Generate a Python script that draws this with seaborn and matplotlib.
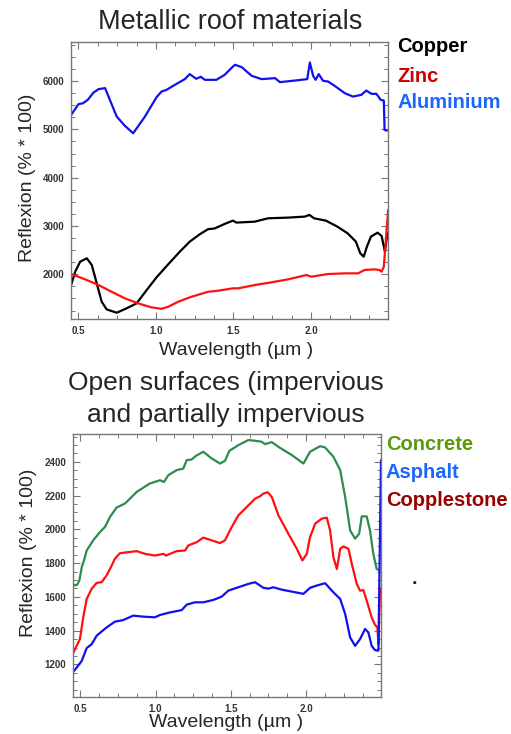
import numpy as np
import pandas as pd
import matplotlib
matplotlib.use('Agg')
import matplotlib.pyplot as plt
from matplotlib.ticker import MultipleLocator
import seaborn as sns

# --- metallic roof materials (wavelength in um, reflexion in % * 100) ---
alu_wl = [0.453, 0.50, 0.53, 0.56, 0.597, 0.63, 0.672, 0.694, 0.747, 0.80, 0.853, 0.929,
          1.004, 1.036, 1.068, 1.122, 1.186, 1.218, 1.26, 1.289, 1.315, 1.39, 1.443, 1.497,
          1.51, 1.553, 1.617, 1.682, 1.768, 1.80, 1.897, 1.976, 1.993, 2.014, 2.03, 2.05,
          2.078, 2.11, 2.153, 2.218, 2.271, 2.325, 2.357, 2.39, 2.422, 2.45, 2.47, 2.475, 2.49]
alu_refl = [5301, 5523, 5543, 5612, 5763, 5834, 5855, 5680, 5266, 5073, 4921, 5266,
            5668, 5784, 5819, 5923, 6041, 6145, 6048, 6090, 6027, 6027, 6130, 6303,
            6338, 6290, 6110, 6041, 6062, 5979, 6012, 6041, 6386, 6110, 6027, 6145,
            6006, 5992, 5902, 5751, 5680, 5716, 5805, 5737, 5737, 5612, 5598, 4990, 4975]

copper_wl = [0.453, 0.479, 0.511, 0.554, 0.586, 0.618, 0.65, 0.682, 0.747, 0.81, 0.875, 0.94,
             1.004, 1.079, 1.154, 1.218, 1.283, 1.336, 1.379, 1.443, 1.497, 1.519, 1.637,
             1.723, 1.852, 1.96, 1.99, 2.02, 2.096, 2.17, 2.236, 2.29, 2.318, 2.34, 2.361,
             2.387, 2.43, 2.456, 2.477, 2.494]
copper_refl = [1778, 2054, 2261, 2332, 2193, 1813, 1432, 1274, 1205, 1295, 1398, 1674,
               1938, 2207, 2469, 2676, 2830, 2934, 2950, 3043, 3112, 3071, 3090,
               3160, 3174, 3195, 3230, 3160, 3112, 2988, 2850, 2676, 2436, 2365, 2573,
               2780, 2863, 2794, 2469, 2863]

zinc_wl = [0.453, 0.543, 0.63, 0.714, 0.80, 0.886, 0.972, 1.036, 1.079, 1.143, 1.229, 1.336,
           1.40, 1.497, 1.53, 1.637, 1.745, 1.852, 1.97, 2.003, 2.11, 2.218, 2.303, 2.346,
           2.41, 2.443, 2.456, 2.47, 2.485, 2.498]
zinc_refl = [2006, 1896, 1778, 1639, 1502, 1398, 1315, 1286, 1328, 1432, 1535, 1639,
             1660, 1710, 1710, 1778, 1834, 1896, 1985, 1951, 2006, 2020, 2020, 2089,
             2103, 2089, 2054, 2158, 2780, 3333]

# --- open surfaces ---
concrete_wl = [0.452, 0.465, 0.48, 0.495, 0.51, 0.525, 0.543, 0.586, 0.631, 0.664, 0.697,
               0.741, 0.797, 0.875, 0.963, 1.03, 1.056, 1.085, 1.14, 1.184, 1.207, 1.24,
               1.266, 1.317, 1.373, 1.428, 1.461, 1.49, 1.55, 1.616, 1.661, 1.705, 1.727,
               1.772, 1.816, 1.905, 1.982, 2.026, 2.093, 2.126, 2.181, 2.226, 2.259, 2.292,
               2.325, 2.352, 2.369, 2.402, 2.424, 2.446, 2.468, 2.48]
concrete_refl = [1675, 1668, 1672, 1700, 1776, 1816, 1875, 1935, 1984, 2014, 2073,
                 2129, 2153, 2222, 2272, 2291, 2281, 2321, 2351, 2360, 2410, 2414,
                 2434, 2460, 2420, 2390, 2406, 2465, 2499, 2529, 2525, 2519, 2505,
                 2517, 2489, 2440, 2390, 2460, 2493, 2485, 2430, 2351, 2192, 1994,
                 1945, 1974, 2077, 2077, 1994, 1855, 1766, 1760]

cobble_wl = [0.45, 0.476, 0.498, 0.52, 0.543, 0.576, 0.609, 0.642, 0.675, 0.709, 0.73, 0.764,
             0.819, 0.875, 0.93, 0.996, 1.052, 1.07, 1.14, 1.196, 1.218, 1.273, 1.317, 1.373,
             1.428, 1.461, 1.506, 1.55, 1.606, 1.661, 1.694, 1.716, 1.745, 1.772, 1.816,
             1.882, 1.938, 1.975, 2.004, 2.026, 2.06, 2.104, 2.137, 2.159, 2.181, 2.204,
             2.226, 2.248, 2.281, 2.303, 2.336, 2.358, 2.38, 2.402, 2.435, 2.457, 2.473,
             2.48, 2.49]
cobble_refl = [1261, 1310, 1350, 1479, 1588, 1648, 1683, 1687, 1727, 1786, 1826, 1859,
               1865, 1871, 1855, 1845, 1855, 1845, 1871, 1875, 1905, 1924, 1951, 1935,
               1919, 1935, 2014, 2083, 2133, 2182, 2196, 2212, 2220, 2192, 2083,
               1974, 1885, 1816, 1855, 1954, 2034, 2064, 2069, 1994, 1835, 1765,
               1885, 1899, 1885, 1796, 1677, 1637, 1640, 1578, 1479, 1435, 1419,
               1320, 1650]

asphalt_wl = [0.45, 0.476, 0.51, 0.543, 0.576, 0.609, 0.642, 0.675, 0.73, 0.786, 0.852, 0.919,
              0.996, 1.03, 1.096, 1.174, 1.207, 1.262, 1.317, 1.384, 1.44, 1.483, 1.55, 1.616,
              1.661, 1.716, 1.749, 1.782, 1.838, 1.982, 2.026, 2.07, 2.126, 2.181, 2.226,
              2.259, 2.292, 2.325, 2.358, 2.391, 2.413, 2.435, 2.457, 2.48, 2.497]
asphalt_refl = [1152, 1181, 1221, 1297, 1320, 1370, 1395, 1419, 1453, 1463, 1489, 1483,
                1479, 1493, 1508, 1522, 1554, 1568, 1568, 1582, 1602, 1637, 1657, 1677,
                1687, 1654, 1649, 1657, 1643, 1618, 1654, 1667, 1681, 1627, 1588,
                1499, 1360, 1310, 1350, 1410, 1390, 1310, 1285, 1281, 2410]

sns.set_style('ticks')
plt.rcParams['font.family'] = ['Liberation Sans', 'DejaVu Sans']

W, H = 511, 734
fig = plt.figure(figsize=(W / 100, H / 100), dpi=100)


def px_axes(left, top, right, bottom):
    return fig.add_axes([left / W, 1 - bottom / H, (right - left) / W, (bottom - top) / H])


def style_axes(ax, ymajor, yminor):
    ax.xaxis.set_major_locator(MultipleLocator(0.5))
    ax.xaxis.set_minor_locator(MultipleLocator(0.125))
    ax.yaxis.set_major_locator(MultipleLocator(ymajor))
    ax.yaxis.set_minor_locator(MultipleLocator(yminor))
    ax.tick_params(which='both', direction='in', top=True, right=True,
                   color='#777777', labelcolor='#333333', labelsize=7, pad=5)
    ax.tick_params(which='major', length=5, width=0.8)
    ax.tick_params(which='minor', length=3, width=0.7)
    for lab in ax.get_xticklabels() + ax.get_yticklabels():
        lab.set_fontweight('bold')
    for sp in ax.spines.values():
        sp.set_color('#777777')
        sp.set_linewidth(1.0)
    ax.set_xlim(0.452, 2.497)


def fig_text(x, y, s, **kw):
    fig.text(x / W, 1 - y / H, s, **kw)


# top panel
ax1 = px_axes(71, 42, 388, 319)
for wl, refl, col in [(alu_wl, alu_refl, '#1010f0'),
                      (copper_wl, copper_refl, '#000000'),
                      (zinc_wl, zinc_refl, '#ff1010')]:
    sns.lineplot(x=wl, y=refl, ax=ax1, color=col, linewidth=1.6, estimator=None, sort=False)
ax1.set_ylim(1075, 6810)
style_axes(ax1, 1000, 250)
ax1.set_xlabel('Wavelength (µm )', fontsize=14)
ax1.set_ylabel('Reflexion (% * 100)', fontsize=14)
ax1.xaxis.set_label_coords(0.52, -0.112)
ax1.xaxis.label.set_va('center')
ax1.yaxis.set_label_coords(-0.136, 0.51)
ax1.yaxis.label.set_va('center')

fig_text(230, 22, 'Metallic roof materials', fontsize=19.5, ha='center', va='center')
for y, name, col in [(47, 'Copper', '#000000'), (77, 'Zinc', '#cc0000'),
                     (103, 'Aluminium', '#1a66ff')]:
    fig_text(397, y, name, fontsize=14.5, fontweight='bold', color=col, ha='left', va='center')

# bottom panel
ax2 = px_axes(73, 434, 381, 697)
for wl, refl, col in [(concrete_wl, concrete_refl, '#2e8b4e'),
                      (cobble_wl, cobble_refl, '#ff1010'),
                      (asphalt_wl, asphalt_refl, '#1010f0')]:
    sns.lineplot(x=wl, y=refl, ax=ax2, color=col, linewidth=1.6, estimator=None, sort=False)
ax2.set_ylim(1007, 2565)
style_axes(ax2, 200, 50)
ax2.set_xlabel('Wavelength (µm )', fontsize=14)
ax2.set_ylabel('Reflexion (% * 100)', fontsize=14)
ax2.xaxis.set_label_coords(0.497, -0.097)
ax2.xaxis.label.set_va('center')
ax2.yaxis.set_label_coords(-0.146, 0.55)
ax2.yaxis.label.set_va('center')

fig_text(226, 383, 'Open surfaces (impervious', fontsize=19, ha='center', va='center')
fig_text(226, 415, 'and partially impervious', fontsize=19, ha='center', va='center')
for y, name, col in [(445, 'Concrete', '#5c9a0c'), (473, 'Asphalt', '#1a66ff'),
                     (501, 'Copplestone', '#990000')]:
    fig_text(386, y, name, fontsize=14.5, fontweight='bold', color=col, ha='left', va='center')
fig_text(414, 580, '.', fontsize=14, fontweight='bold', ha='center', va='center')

fig.savefig('out.png', dpi=100)
